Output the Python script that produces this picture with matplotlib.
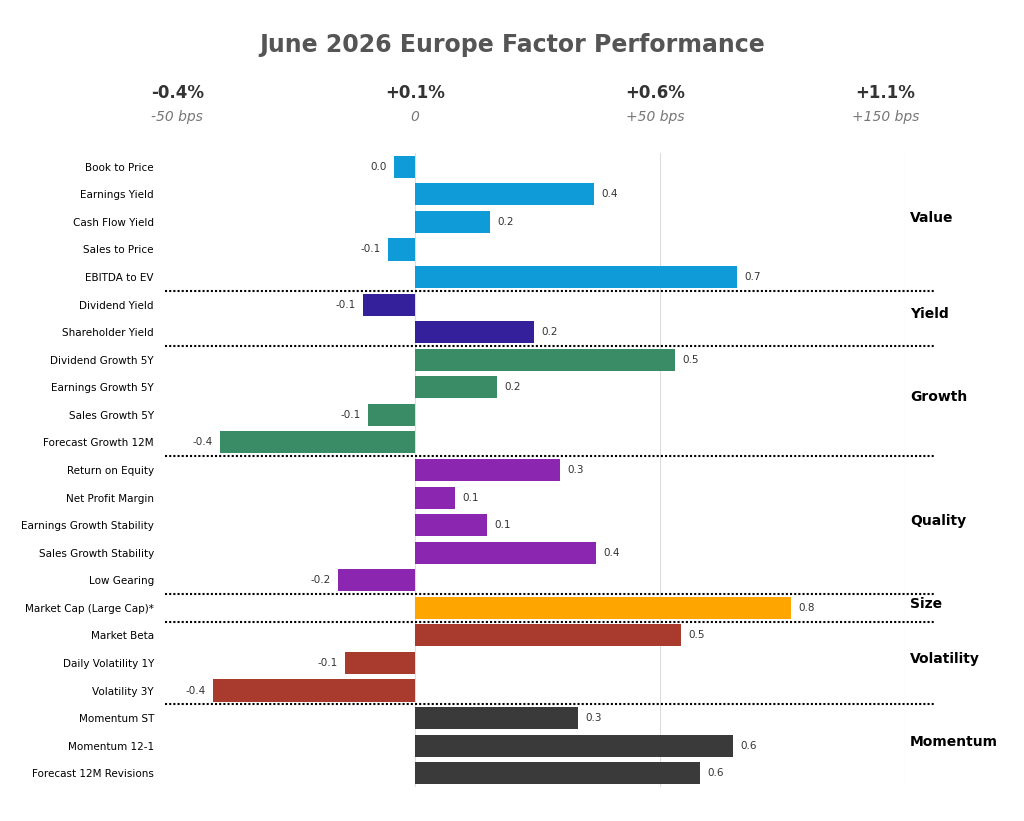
import numpy as np
import matplotlib.pyplot as plt

factors = ['Book to Price', 'Earnings Yield', 'Cash Flow Yield', 'Sales to Price', 'EBITDA to EV',
           'Dividend Yield', 'Shareholder Yield',
           'Dividend Growth 5Y', 'Earnings Growth 5Y', 'Sales Growth 5Y', 'Forecast Growth 12M',
           'Return on Equity', 'Net Profit Margin', 'Earnings Growth Stability', 'Sales Growth Stability', 'Low Gearing',
           'Market Cap (Large Cap)*',
           'Market Beta', 'Daily Volatility 1Y', 'Volatility 3Y',
           'Momentum ST', 'Momentum 12-1', 'Forecast 12M Revisions']
values = [-0.043, 0.365, 0.153, -0.055, 0.657,
          -0.106, 0.243,
          0.531, 0.167, -0.096, -0.398,
          0.296, 0.082, 0.147, 0.369, -0.157,
          0.767,
          0.543, -0.143, -0.412,
          0.333, 0.649, 0.582]
labels = ['0.0', '0.4', '0.2', '-0.1', '0.7', '-0.1', '0.2', '0.5', '0.2', '-0.1', '-0.4',
          '0.3', '0.1', '0.1', '0.4', '-0.2', '0.8', '0.5', '-0.1', '-0.4', '0.3', '0.6', '0.6']
groups = ['Value', 'Yield', 'Growth', 'Quality', 'Size', 'Volatility', 'Momentum']
group_sizes = [5, 2, 4, 5, 1, 3, 3]
group_colors = ['#0f9bd7', '#33209a', '#3a8c66', '#8b26b0', '#ffa500', '#a83a2e', '#3a3a3a']
top_pct = ['-0.4%', '+0.1%', '+0.6%', '+1.1%']
top_bps = ['-50 bps', '0', '+50 bps', '+150 bps']
top_pos = [-0.485, 0.0, 0.49, 0.96]

fig = plt.figure(figsize=(10.24, 8.21), dpi=100)
ax = fig.add_axes([165/1024, 1-787/821, 740/1024, 634/821])

colors = []
for c, n in zip(group_colors, group_sizes):
    colors += [c]*n
y = np.arange(len(factors))
ax.barh(y, values, height=0.8, color=colors, zorder=3)
for yi, v, l in zip(y, values, labels):
    if v >= 0:
        ax.text(v + 0.015, yi, l, va='center', ha='left', fontsize=7.5, color='#333333')
    else:
        ax.text(v - 0.015, yi, l, va='center', ha='right', fontsize=7.5, color='#333333')

ax.set_xlim(-0.51, 1.0)
ax.set_ylim(len(factors) - 0.5, -0.5)
ax.set_yticks(y)
ax.set_yticklabels(factors, fontsize=7.5)
ax.tick_params(axis='y', length=0, pad=8)
ax.set_xticks([])
for s in ax.spines.values():
    s.set_visible(False)
for xv in [0, 0.5, 1.0]:
    ax.axvline(xv, color='#dddddd', lw=0.8, zorder=1)

# separators + group names
start = 0
for g, n in zip(groups, group_sizes):
    mid = start + (n - 1) / 2
    ax.text(1.01, mid - 0.15, g, fontsize=10, fontweight='bold', va='center', ha='left')
    start += n
    if start < len(factors):
        ax.plot([-0.51, 1.061], [start - 0.5, start - 0.5], color='black', lw=1.5,
                ls=(0, (1, 1)), clip_on=False, zorder=4)

for xp, p, b in zip(top_pos, top_pct, top_bps):
    ax.text(xp, -2.69, p, ha='center', va='center', fontsize=12, fontweight='bold', color='#333333')
    ax.text(xp, -1.81, b, ha='center', va='center', fontsize=10, style='italic', color='#777777')

fig.text(0.5, 1-45/821, 'June 2026 Europe Factor Performance', ha='center', va='center',
         fontsize=17, fontweight='bold', color='#555555')

fig.savefig('out.png')
